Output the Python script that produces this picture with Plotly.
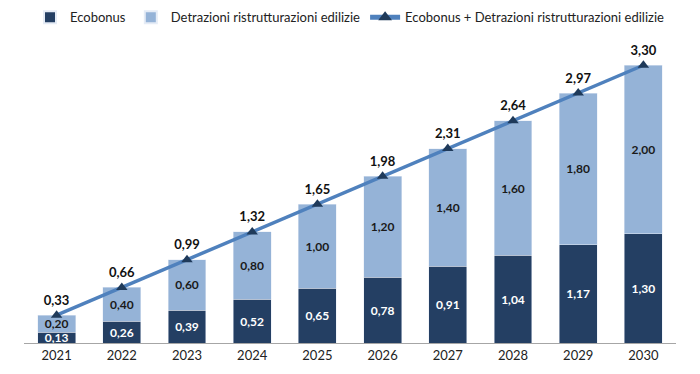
import plotly.graph_objects as go

years = ["2021", "2022", "2023", "2024", "2025", "2026", "2027", "2028", "2029", "2030"]
ecobonus = [0.13, 0.26, 0.39, 0.52, 0.65, 0.78, 0.91, 1.04, 1.17, 1.30]
detrazioni = [0.20, 0.40, 0.60, 0.80, 1.00, 1.20, 1.40, 1.60, 1.80, 2.00]
totale = [0.33, 0.66, 0.99, 1.32, 1.65, 1.98, 2.31, 2.64, 2.97, 3.30]

FONT = "Lato"
fig = go.Figure()
fig.add_trace(go.Bar(
    x=years, y=ecobonus, name="Ecobonus", marker_color="#243f63",
    texttemplate="<b>%{y:.2f}</b>", textposition="inside", insidetextanchor="middle",
    textfont=dict(color="white", size=12, family=FONT), width=0.58,
))
fig.add_trace(go.Bar(
    x=years, y=detrazioni, name="Detrazioni ristrutturazioni edilizie", marker_color="#95b3d7",
    texttemplate="<b>%{y:.2f}</b>", textposition="inside", insidetextanchor="middle",
    textfont=dict(color="#1a1a1a", size=12, family=FONT), width=0.58,
))
fig.add_trace(go.Scatter(
    x=years, y=totale, name="Ecobonus + Detrazioni ristrutturazioni edilizie",
    mode="lines+markers+text", line=dict(color="#4f81bd", width=3.5),
    marker=dict(symbol="triangle-up", size=10, color="#1f3a5a"),
    texttemplate="<b>%{y:.2f}</b>", textposition="top center",
    textfont=dict(color="#111111", size=13, family=FONT),
))
fig.update_layout(
    barmode="stack", separators=",.",
    width=692, height=366, plot_bgcolor="white", paper_bgcolor="white",
    margin=dict(l=16, r=24, t=32, b=31, autoexpand=False),
    font=dict(family=FONT, size=13, color="#222222"),
    uniformtext=dict(minsize=12, mode="show"),
    legend=dict(orientation="h", x=0.5, xanchor="center", y=1.075, yanchor="middle",
                font=dict(size=13, family=FONT), traceorder="normal",
                itemsizing="constant", tracegroupgap=0),
    showlegend=True,
)
fig.update_xaxes(showline=True, linecolor="#a6a6a6", linewidth=1, ticks="", showgrid=False,
                 range=[-0.5, 9.5], automargin=False,
                 tickfont=dict(size=13, family=FONT, color="#222222"))
fig.update_yaxes(range=[0, 3.6], visible=False, showgrid=False, automargin=False)
fig.write_html("out.html")
